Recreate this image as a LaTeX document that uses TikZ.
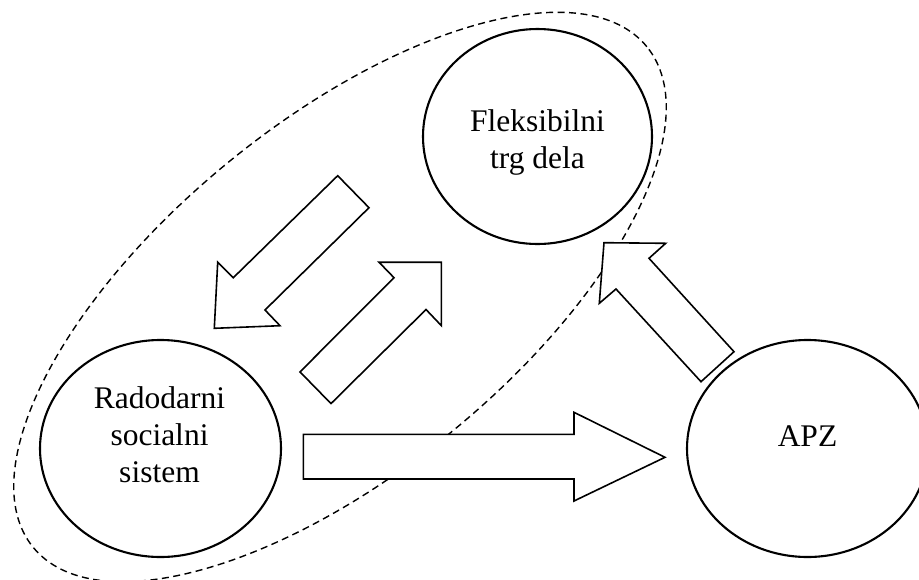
\documentclass[tikz,border=0pt]{standalone}
\usepackage{fontspec}
\setmainfont{Liberation Serif}
\usetikzlibrary{shapes.geometric}
\begin{document}
\begin{tikzpicture}[x=1pt,y=-1pt,
  circ/.style={draw, line width=2.1pt, ellipse, inner sep=0pt},
  lbl/.style={align=center, inner sep=0pt, font=\fontsize{31.5}{37}\selectfont},
  blockarrow/.style={draw, line width=1.6pt, fill=white, line join=miter},
  group/.style={draw, dash pattern=on 7pt off 4.5pt, line width=1.4pt}]
\useasboundingbox[fill=white] (0,0) rectangle (919,579);
% dashed grouping ellipse
\draw[group, shift={(340,297)}, rotate=39.2] (0,0) ellipse [x radius=396pt, y radius=175pt];
% circles
\node[circ, minimum width=229pt, minimum height=215pt] (flex) at (537.5,136.5) {};
\node[circ, minimum width=241pt, minimum height=217pt] (rad) at (160.5,448.5) {};
\node[circ, minimum width=241pt, minimum height=217pt] (apz) at (807.5,448.5) {};
% labels
\node[lbl] (flexlbl) at (537.5,142.9) {Fleksibilni\\trg dela};
\node[lbl] (radlbl) at (159.5,434.3) {Radodarni\\socialni\\sistem};
\node[lbl] (apzlbl) at (807.5,436.2) {APZ};
% block arrows
\draw[blockarrow] (337.7,175.7) -- (369,207.7) -- (265,310) -- (280,325.7) -- (214.3,328.3) -- (217.7,262.3) -- (233.3,277.7) -- cycle;
\draw[blockarrow] (331,403.6) -- (300,371.9) -- (394,277.7) -- (379,262.2) -- (441.4,262.2) -- (441.4,325.7) -- (426,309.5) -- cycle;
\draw[blockarrow] (604,242.7) -- (665.7,243.3) -- (649,258.3) -- (734,351.7) -- (701,381.7) -- (616,289) -- (599.3,303.3) -- cycle;
\draw[blockarrow] (303.3,434.3) -- (574,434.3) -- (574,412.3) -- (665,457.3) -- (574,501) -- (574,479) -- (303.3,479) -- cycle;
\end{tikzpicture}
\end{document}
